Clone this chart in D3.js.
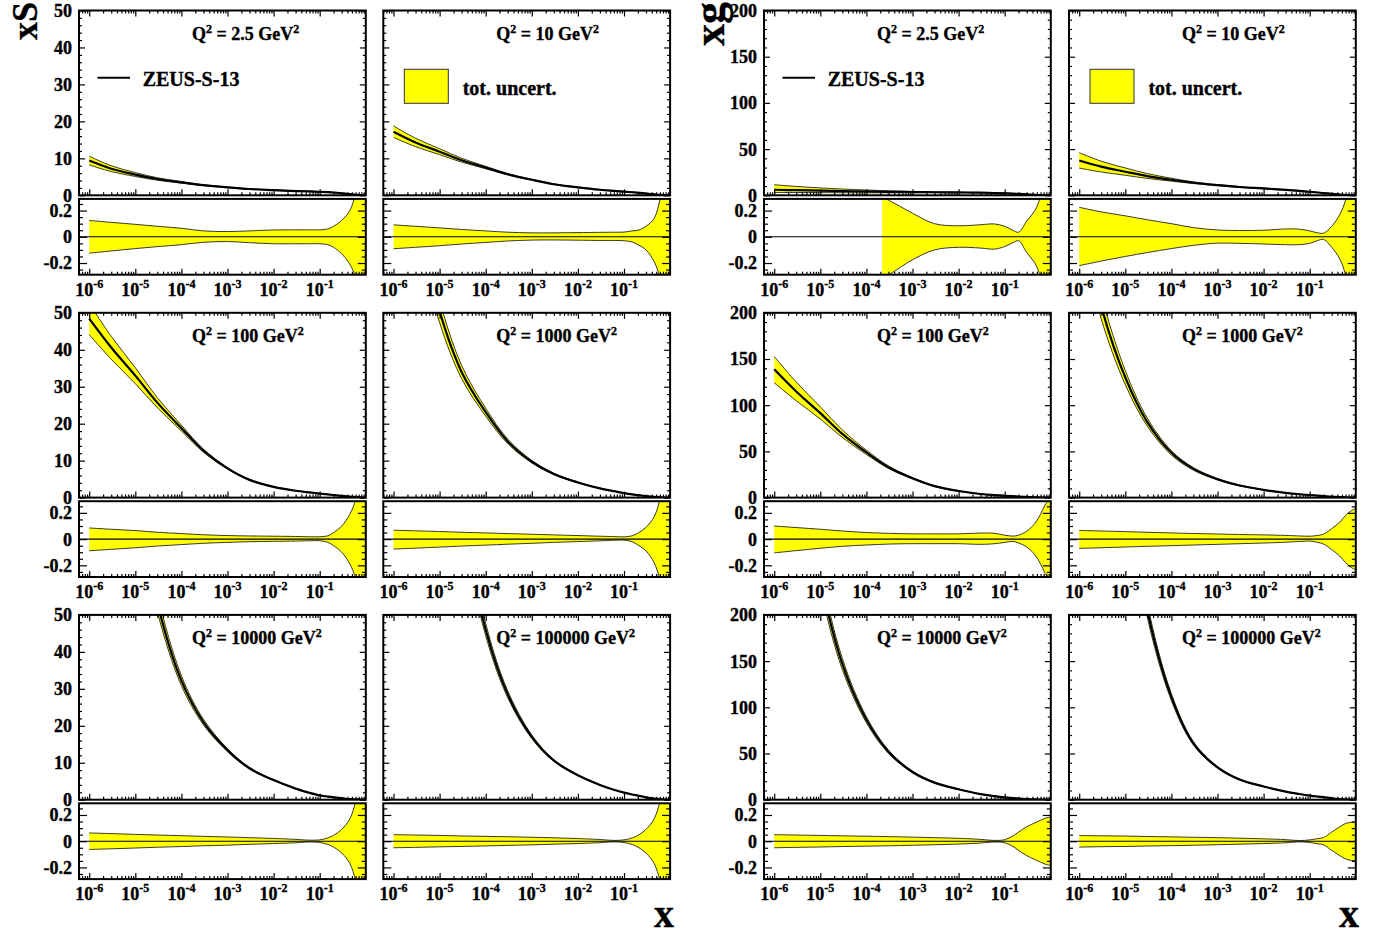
<!DOCTYPE html>
<html><head><meta charset="utf-8">
<script src="https://cdn.jsdelivr.net/npm/d3@7"></script>
<style>
body{margin:0;background:#fff;}
svg text{font-family:"Liberation Serif","Times New Roman",serif;font-weight:bold;fill:#000;stroke:#000;stroke-width:0.35px;}
</style></head><body>
<svg id="c" width="1374" height="930"></svg>
<script>
// ---------------- data ----------------
const xGrid = [1e-6,3e-6,1e-5,3e-5,1e-4,3e-4,1e-3,3e-3,1e-2,3e-2,0.06,0.1,0.15,0.2,0.3,0.45,0.6,0.75,0.99];
const q2Values = ["2.5","10","100","1000","10000","100000"];

const xSCentral = [
  [9.4,7.2,5.6,4.4,3.5,2.75,2.15,1.7,1.4,1.15,1.05,0.95,0.85,0.75,0.55,0.32,0.15,0.05,0.002],
  [17.2,14.3,11.8,9.5,7.5,5.7,4.2,3.0,2.15,1.5,1.2,1.0,0.82,0.7,0.48,0.28,0.13,0.05,0.002],
  [48.4,40.6,33.0,25.7,18.8,12.7,7.9,4.8,2.9,1.85,1.4,1.1,0.85,0.7,0.45,0.24,0.11,0.04,0.002],
  [116,77.6,50.4,34,23.1,15.2,9.7,6.4,4.1,2.5,1.75,1.2,0.85,0.68,0.42,0.2,0.09,0.03,0.001],
  [223,140,84.7,53.3,32.2,21.0,13.4,8.5,5.3,3.0,1.85,1.15,0.85,0.65,0.4,0.19,0.08,0.025,0.001],
  [348,214,127,78,46,28.5,17,10.6,6.6,4.0,2.7,1.9,1.4,1.1,0.65,0.3,0.13,0.04,0.001]
];
const xSUp = [
  [0.125,0.11,0.095,0.08,0.065,0.045,0.04,0.045,0.052,0.053,0.053,0.053,0.06,0.08,0.125,0.2,0.33,0.5,0.8],
  [0.091,0.08,0.068,0.056,0.045,0.035,0.03,0.03,0.032,0.034,0.035,0.036,0.045,0.05,0.08,0.14,0.28,0.45,0.7],
  [0.085,0.075,0.065,0.052,0.042,0.033,0.027,0.024,0.022,0.02,0.018,0.018,0.025,0.05,0.1,0.19,0.3,0.5,0.75],
  [0.068,0.063,0.058,0.052,0.047,0.042,0.037,0.032,0.027,0.022,0.019,0.017,0.025,0.045,0.09,0.17,0.3,0.45,0.7],
  [0.063,0.058,0.052,0.047,0.042,0.037,0.032,0.027,0.021,0.014,0.008,0.01,0.025,0.045,0.09,0.17,0.3,0.45,0.7],
  [0.05,0.047,0.044,0.04,0.037,0.034,0.03,0.026,0.02,0.013,0.006,0.01,0.025,0.045,0.09,0.17,0.3,0.45,0.7]
];
const xSDown = [
  [-0.125,-0.108,-0.09,-0.075,-0.06,-0.042,-0.036,-0.045,-0.053,-0.053,-0.053,-0.053,-0.06,-0.08,-0.13,-0.21,-0.31,-0.5,-0.8],
  [-0.091,-0.08,-0.068,-0.055,-0.043,-0.032,-0.025,-0.024,-0.026,-0.028,-0.028,-0.03,-0.04,-0.06,-0.1,-0.19,-0.31,-0.5,-0.75],
  [-0.089,-0.078,-0.066,-0.053,-0.042,-0.032,-0.025,-0.02,-0.017,-0.015,-0.013,-0.012,-0.025,-0.05,-0.1,-0.19,-0.3,-0.5,-0.75],
  [-0.076,-0.069,-0.061,-0.053,-0.046,-0.039,-0.032,-0.025,-0.019,-0.013,-0.009,-0.008,-0.02,-0.045,-0.09,-0.18,-0.31,-0.5,-0.75],
  [-0.063,-0.058,-0.052,-0.046,-0.041,-0.035,-0.03,-0.024,-0.018,-0.012,-0.006,-0.01,-0.025,-0.045,-0.09,-0.17,-0.3,-0.5,-0.75],
  [-0.05,-0.047,-0.043,-0.04,-0.036,-0.032,-0.028,-0.023,-0.018,-0.011,-0.005,-0.01,-0.025,-0.045,-0.09,-0.17,-0.3,-0.5,-0.75]
];

const xgCentral = [
  [6.0,5.5,5.0,4.6,4.2,3.8,3.5,3.3,3.1,2.8,2.5,2.2,1.9,1.5,1.0,0.5,0.2,0.07,0.003],
  [37.7,31,25.5,20.8,16.8,13.6,11,9,7.4,5.9,4.8,3.8,3.0,2.5,1.6,0.8,0.35,0.12,0.005],
  [138.9,114.9,91.4,68.9,48.9,32.9,20.9,12.4,7.1,3.9,2.7,2.0,1.5,1.15,0.7,0.3,0.12,0.04,0.002],
  [315,207,130,81.7,48.5,31.1,19.9,13.1,8.4,5.1,3.6,2.8,2.1,1.6,0.95,0.42,0.17,0.055,0.002],
  [680,413,241,147,86.5,52,30,18.5,11.3,6,3.8,2.5,1.8,1.3,0.7,0.3,0.12,0.04,0.002],
  [1125,647,356,205,111,61,35,21.9,14.3,8.8,6.2,4.5,3.4,2.7,1.6,0.75,0.3,0.1,0.003]
];
const xgUp = [
  [0.9,0.75,0.6,0.47,0.36,0.28,0.18,0.1,0.084,0.092,0.098,0.08,0.05,0.035,0.12,0.2,0.31,0.5,0.8],
  [0.225,0.19,0.16,0.13,0.1,0.07,0.052,0.048,0.05,0.06,0.058,0.045,0.03,0.028,0.08,0.17,0.28,0.45,0.7],
  [0.1,0.088,0.075,0.062,0.05,0.044,0.04,0.04,0.04,0.046,0.044,0.03,0.023,0.03,0.06,0.12,0.19,0.26,0.31],
  [0.066,0.062,0.057,0.052,0.047,0.043,0.039,0.035,0.032,0.028,0.024,0.022,0.028,0.038,0.08,0.13,0.18,0.21,0.235],
  [0.05,0.047,0.044,0.041,0.038,0.035,0.031,0.027,0.022,0.014,0.006,0.012,0.04,0.07,0.11,0.14,0.16,0.175,0.185],
  [0.043,0.041,0.039,0.036,0.033,0.03,0.027,0.023,0.018,0.012,0.005,0.01,0.02,0.028,0.07,0.11,0.135,0.143,0.146]
];
const xgDown = [
  [-0.5,-0.45,-0.42,-0.4,-0.36,-0.29,-0.175,-0.1,-0.08,-0.086,-0.094,-0.074,-0.045,-0.03,-0.12,-0.2,-0.31,-0.5,-0.8],
  [-0.22,-0.185,-0.15,-0.12,-0.09,-0.065,-0.048,-0.05,-0.055,-0.06,-0.06,-0.05,-0.028,-0.02,-0.08,-0.17,-0.29,-0.45,-0.7],
  [-0.105,-0.088,-0.07,-0.055,-0.045,-0.038,-0.035,-0.035,-0.035,-0.04,-0.035,-0.025,-0.018,-0.03,-0.06,-0.12,-0.19,-0.26,-0.31],
  [-0.071,-0.066,-0.06,-0.055,-0.05,-0.045,-0.04,-0.035,-0.03,-0.024,-0.018,-0.015,-0.025,-0.038,-0.08,-0.13,-0.18,-0.21,-0.235],
  [-0.05,-0.047,-0.044,-0.041,-0.038,-0.035,-0.031,-0.027,-0.022,-0.014,-0.006,-0.012,-0.04,-0.07,-0.11,-0.14,-0.16,-0.175,-0.185],
  [-0.045,-0.042,-0.04,-0.037,-0.034,-0.031,-0.027,-0.023,-0.018,-0.012,-0.005,-0.01,-0.02,-0.028,-0.07,-0.11,-0.135,-0.145,-0.148]
];
// ratio band is only shown above this x (null = whole range)
const xgRatioStart = [2.2e-4,null,null,null,null,null];
const xSRatioStart = [null,null,null,null,null,null];

const xTickExponents = [-6,-5,-4,-3,-2,-1];
const xSTicks = [0,10,20,30,40,50];
const xgTicks = [0,50,100,150,200];
const ratioTicks = [-0.2,0,0.2];
const ratioTickLabels = ["-0.2","0","0.2"];

// ---------------- layout ----------------
const svg = d3.select("#c");
const colLeft = [79, 383.3, 764, 1069];
const panelW = 286.8;
const rowTop = [10.5, 312.8, 614.9];
const mainH = 184.8;
const gapH = 3.6;
const ratioH = 75.8;
const YELLOW = "#ffff00";
const CURVE = d3.curveCatmullRom.alpha(0.5);

const x = d3.scaleLog().domain([6e-7, 1]).range([0, panelW]);
const xMinor = [];
for (let d = -7; d <= -1; d++) for (let k = 2; k <= 9; k++) {
  const v = k * Math.pow(10, d);
  if (v >= 6e-7 && v < 1) xMinor.push(v);
}
const xMajor = [1e-6,1e-5,1e-4,1e-3,1e-2,1e-1];

const groups = [
  {title:"xS", titleX:37, titleSize:36, central:xSCentral, up:xSUp, down:xSDown, start:xSRatioStart, yMax:50, yTicks:xSTicks, yMinorStep:2, cols:[0,1], xTitleX:674},
  {title:"xg", titleX:724, titleSize:44, central:xgCentral, up:xgUp, down:xgDown, start:xgRatioStart, yMax:200, yTicks:xgTicks, yMinorStep:10, cols:[2,3], xTitleX:1359}
];

let clipId = 0;
function clip(g, w, h, x0) {
  const id = "clip" + (clipId++);
  g.append("clipPath").attr("id", id).append("rect")
    .attr("x", x0 || 0).attr("y", 0).attr("width", w - (x0 || 0)).attr("height", h);
  return "url(#" + id + ")";
}
function styleAxis(s) {
  s.select(".domain").remove();
  s.selectAll("line").attr("stroke", "#000").attr("stroke-width", 1.2);
  s.selectAll("text").remove();
}
function xTicks(g, h, majLen, minLen, withTop) {
  g.append("g").attr("transform", `translate(0,${h})`)
    .call(d3.axisBottom(x).tickValues(xMajor).tickSize(-majLen)).call(styleAxis);
  g.append("g").attr("transform", `translate(0,${h})`)
    .call(d3.axisBottom(x).tickValues(xMinor).tickSize(-minLen)).call(styleAxis);
  if (withTop) {
    g.append("g").call(d3.axisTop(x).tickValues(xMajor).tickSize(-majLen)).call(styleAxis);
    g.append("g").call(d3.axisTop(x).tickValues(xMinor).tickSize(-minLen)).call(styleAxis);
  }
}
function yTicks(g, y, major, minor, majLen, minLen) {
  g.append("g").call(d3.axisLeft(y).tickValues(major).tickSize(-majLen)).call(styleAxis);
  g.append("g").call(d3.axisLeft(y).tickValues(minor).tickSize(-minLen)).call(styleAxis);
  g.append("g").attr("transform", `translate(${panelW},0)`)
    .call(d3.axisRight(y).tickValues(major).tickSize(-majLen)).call(styleAxis);
  g.append("g").attr("transform", `translate(${panelW},0)`)
    .call(d3.axisRight(y).tickValues(minor).tickSize(-minLen)).call(styleAxis);
}

groups.forEach(G => {
  // y title
  svg.append("text").attr("transform", `translate(${G.titleX},2) rotate(-90)`)
    .attr("text-anchor", "end").style("font-size", G.titleSize + "px").text(G.title);
  // x title
  svg.append("text").attr("x", G.xTitleX).attr("y", 927).attr("text-anchor", "end")
    .style("font-size", "40px").text("x");

  const y = d3.scaleLinear().domain([0, G.yMax]).range([mainH, 0]);
  const yMinor = d3.range(0, G.yMax + 0.001, G.yMinorStep).filter(v => G.yTicks.indexOf(v) < 0);
  const yr = d3.scaleLinear().domain([-0.289, 0.289]).range([ratioH, 0]);
  const rMinor = [-0.25,-0.15,-0.1,-0.05,0.05,0.1,0.15,0.25];

  for (let p = 0; p < 6; p++) {
    const row = Math.floor(p / 2), col = p % 2;
    const L = colLeft[G.cols[col]], T = rowTop[row];
    const pts = xGrid.map((xv, k) => ({
      x: xv, c: G.central[p][k],
      u: G.central[p][k] * (1 + G.up[p][k]), d: G.central[p][k] * (1 + G.down[p][k]),
      ru: G.up[p][k], rd: G.down[p][k]
    }));

    // ---- main pad ----
    const gm = svg.append("g").attr("transform", `translate(${L},${T})`);
    const cm = clip(gm, panelW, mainH);
    const plot = gm.append("g").attr("clip-path", cm);
    plot.append("path").datum(pts).attr("fill", YELLOW)
      .attr("d", d3.area().x(d => x(d.x)).y0(d => y(d.d)).y1(d => y(d.u)).curve(CURVE));
    ["u", "d"].forEach(key => plot.append("path").datum(pts).attr("fill", "none")
      .attr("stroke", "#222").attr("stroke-width", 0.9)
      .attr("d", d3.line().x(d => x(d.x)).y(d => y(d[key])).curve(CURVE)));
    plot.append("path").datum(pts).attr("fill", "none").attr("stroke", "#000").attr("stroke-width", 2.2)
      .attr("d", d3.line().x(d => x(d.x)).y(d => y(d.c)).curve(CURVE));
    xTicks(gm, mainH, 6, 3, true);
    yTicks(gm, y, G.yTicks, yMinor, 6, 3);
    gm.append("rect").attr("width", panelW).attr("height", mainH)
      .attr("fill", "none").attr("stroke", "#000").attr("stroke-width", 2);
    if (col === 0) {
      G.yTicks.forEach(v => gm.append("text").attr("x", -7).attr("y", y(v)).attr("dy", "0.36em")
        .attr("text-anchor", "end").style("font-size", "18px").text(v));
    }
    // Q2 label
    const q = gm.append("text").attr("x", 113).attr("y", 29).style("font-size", "18px");
    q.append("tspan").text("Q");
    q.append("tspan").attr("dy", -7).style("font-size", "12px").text("2");
    q.append("tspan").attr("dy", 7).text(" = " + q2Values[p] + " GeV");
    q.append("tspan").attr("dy", -7).style("font-size", "12px").text("2");

    // legends
    if (p === 0) {
      gm.append("line").attr("x1", 18.5).attr("x2", 51).attr("y1", 67.2).attr("y2", 67.2)
        .attr("stroke", "#000").attr("stroke-width", 2);
      gm.append("text").attr("x", 63.7).attr("y", 75.2).style("font-size", "20px").text("ZEUS-S-13");
    }
    if (p === 1) {
      gm.append("rect").attr("x", 21).attr("y", 58.8).attr("width", 44).attr("height", 34)
        .attr("fill", YELLOW).attr("stroke", "#333").attr("stroke-width", 1);
      gm.append("text").attr("x", 79.4).attr("y", 84.5).style("font-size", "20px").text("tot. uncert.");
    }

    // ---- ratio pad ----
    const gr = svg.append("g").attr("transform", `translate(${L},${T + mainH + gapH})`);
    const st = G.start[p];
    const cr = clip(gr, panelW, ratioH, st ? x(st) : 0);
    const rplot = gr.append("g").attr("clip-path", cr);
    rplot.append("path").datum(pts).attr("fill", YELLOW)
      .attr("d", d3.area().x(d => x(d.x)).y0(d => yr(d.rd)).y1(d => yr(d.ru)).curve(CURVE));
    ["ru", "rd"].forEach(key => rplot.append("path").datum(pts).attr("fill", "none")
      .attr("stroke", "#222").attr("stroke-width", 0.9)
      .attr("d", d3.line().x(d => x(d.x)).y(d => yr(d[key])).curve(CURVE)));
    gr.append("line").attr("x1", 0).attr("x2", panelW).attr("y1", yr(0)).attr("y2", yr(0))
      .attr("stroke", "#000").attr("stroke-width", 1.1);
    xTicks(gr, ratioH, 6, 3, false);
    yTicks(gr, yr, ratioTicks, rMinor, 8, 4);
    gr.append("rect").attr("width", panelW).attr("height", ratioH)
      .attr("fill", "none").attr("stroke", "#000").attr("stroke-width", 2);
    if (col === 0) {
      ratioTicks.forEach((v, i) => gr.append("text").attr("x", -7).attr("y", yr(v)).attr("dy", "0.36em")
        .attr("text-anchor", "end").style("font-size", "18px").text(ratioTickLabels[i]));
    }
    xTickExponents.forEach(e => {
      const t = gr.append("text").attr("x", x(Math.pow(10, e))).attr("y", ratioH + 21)
        .attr("text-anchor", "middle").style("font-size", "18px");
      t.append("tspan").text("10");
      t.append("tspan").attr("dy", -8).style("font-size", "12px").text(String(e));
    });
  }
});
</script>
</body></html>
